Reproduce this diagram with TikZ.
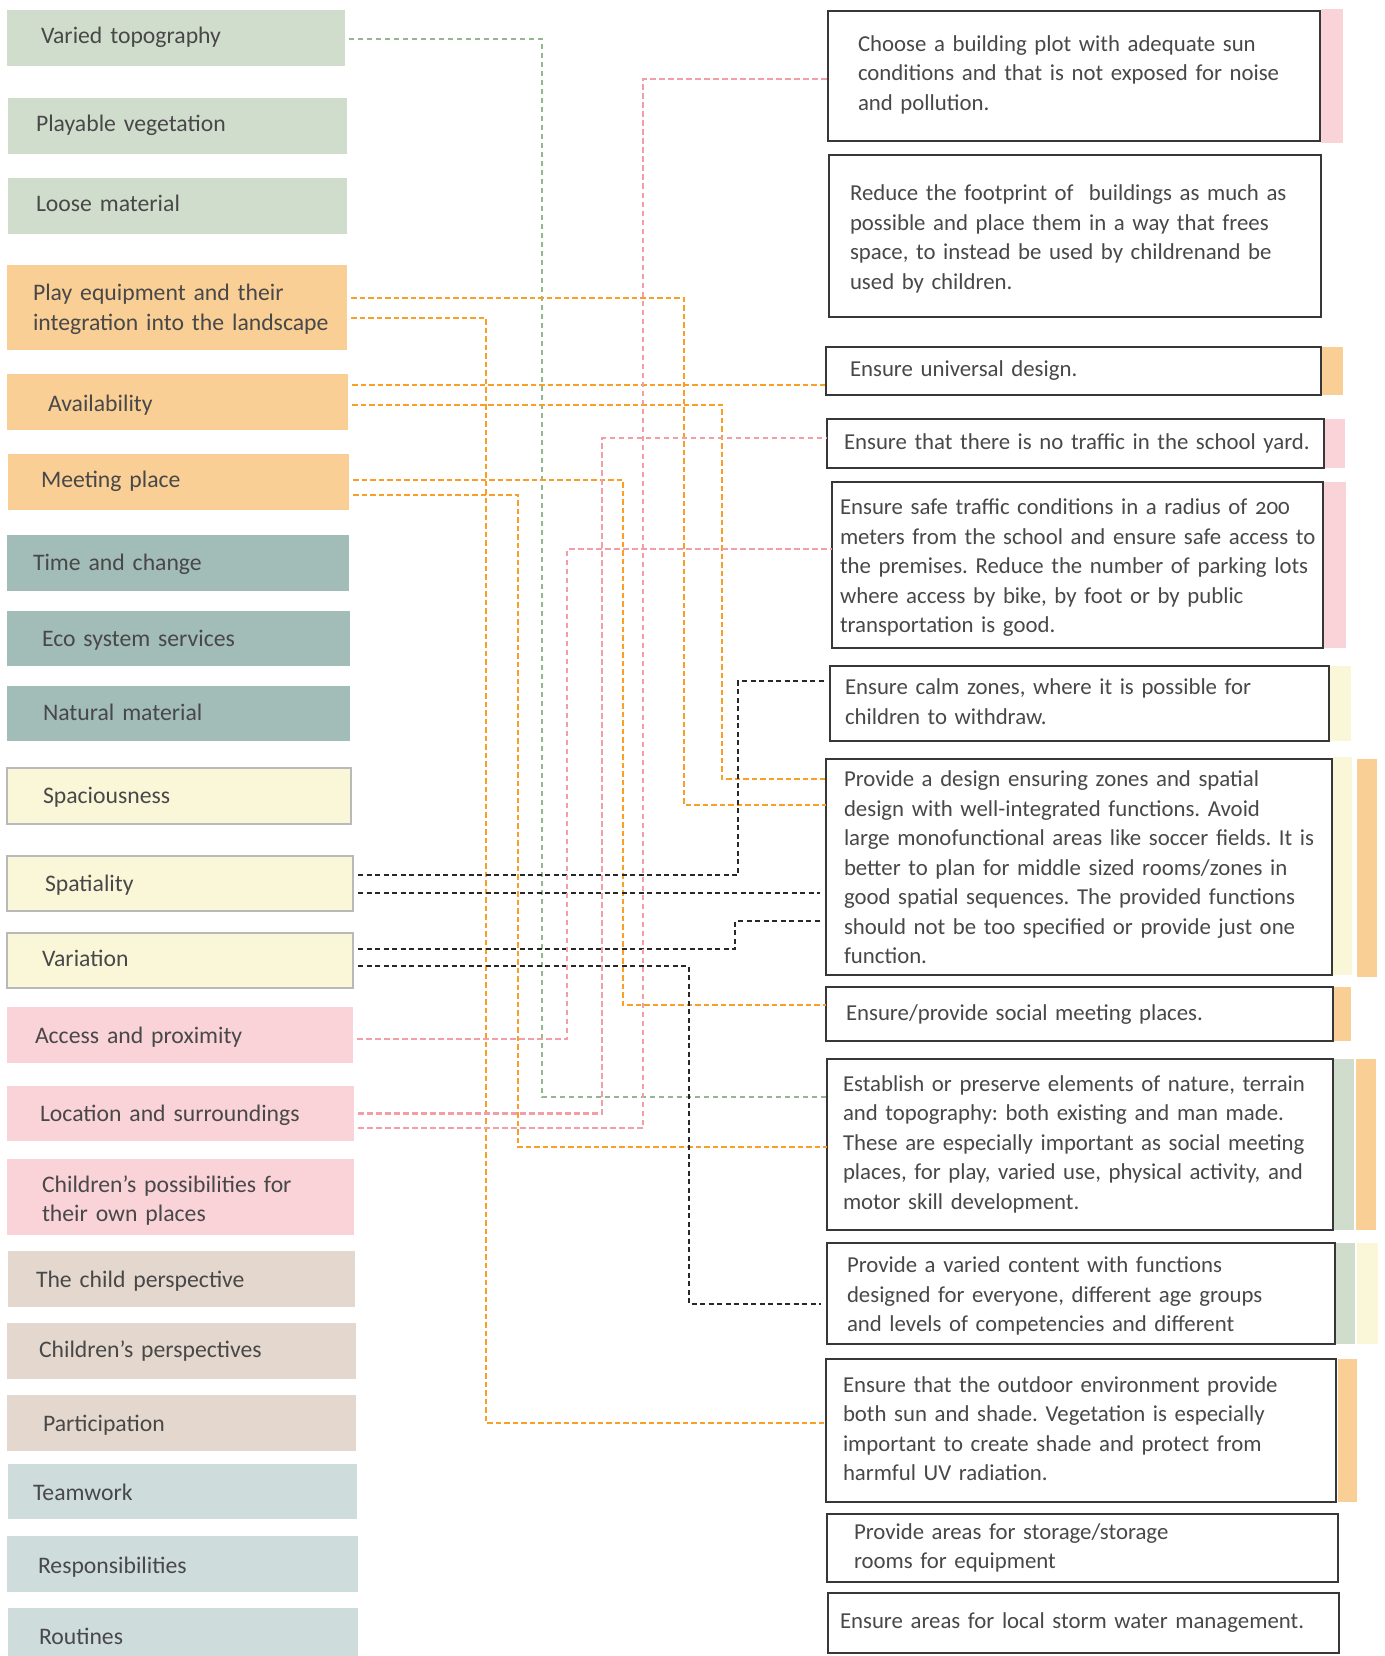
\documentclass[tikz,border=0pt]{standalone}
\usepackage{fontspec}
\setmainfont{Carlito}[Numbers=OldStyle]
\usepackage{xcolor}
\definecolor{sagefill}{RGB}{209,221,204}
\definecolor{peachfill}{RGB}{250,207,150}
\definecolor{tealfill}{RGB}{162,188,183}
\definecolor{creamfill}{RGB}{250,247,217}
\definecolor{rosefill}{RGB}{250,211,216}
\definecolor{sandfill}{RGB}{228,216,206}
\definecolor{mistfill}{RGB}{207,220,220}
\definecolor{creamline}{RGB}{185,185,185}
\definecolor{boxline}{RGB}{55,55,55}
\definecolor{inkgray}{RGB}{72,72,72}
\definecolor{sageline}{RGB}{148,184,142}
\definecolor{peachline}{RGB}{249,158,38}
\definecolor{roseline}{RGB}{243,158,166}
\definecolor{darkline}{RGB}{40,40,40}
\frenchspacing
\newcommand\rows[2][0pt]{\raisebox{#1}[\height][\depth]{\begin{tabular}{@{}l@{}}#2\end{tabular}}}
\newcommand\leftfont{\fontsize{23.7}{29.5}\selectfont}
\newcommand\rightfont{\fontsize{22.8}{29.5}\selectfont}

\begin{document}
\begin{tikzpicture}[x=1pt, y=-1pt,
        every node/.style={anchor=north west, inner ysep=0pt, outer sep=0pt, text=inkgray},
        theme/.style={fill=#1, font=\leftfont}, guide/.style={draw=boxline, line width=1.4pt, fill=white, font=\rightfont},%
        sagelink/.style={draw=sageline, line width=2.2pt, dash pattern=on 5pt off 4pt, shorten <=4pt},
        peachlink/.style={draw=peachline, line width=2.8pt, dash pattern=on 5.5pt off 3pt, shorten <=4pt},
        roselink/.style={draw=roseline, line width=2.3pt, dash pattern=on 5.5pt off 3.5pt, shorten <=4pt},
        darklink/.style={draw=darkline, line width=1.4pt, dash pattern=on 5pt off 3.5pt, shorten <=5pt, shorten >=6pt}]
        \fill[white] (0,0) rectangle (1384,1656);
        \useasboundingbox (0,0) rectangle (1384,1656);

        % qualities (left column)
        \node[theme=sagefill, text width=270pt, inner xsep=34pt, minimum height=56pt] (topo) at (7,10) {\rows{Varied topography}};
        \node[theme=sagefill, text width=283pt, inner xsep=28pt, minimum height=56pt] (veg) at (8,98) {\rows{Playable vegetation}};
        \node[theme=sagefill, text width=283pt, inner xsep=28pt, minimum height=56pt] (loose) at (8,178) {\rows{Loose material}};
        \node[theme=peachfill, text width=288pt, inner xsep=26pt, minimum height=85pt] (equip) at (7,265) {\rows[-2pt]{Play equipment and their\\integration into the landscape}};
        \node[theme=peachfill, text width=259pt, inner xsep=41pt, minimum height=56pt] (avail) at (7,374) {\rows[-4pt]{Availability}};
        \node[theme=peachfill, text width=275pt, inner xsep=33pt, minimum height=56pt] (meet) at (8,454) {\rows{Meeting place}};
        \node[theme=tealfill, text width=290pt, inner xsep=26pt, minimum height=56pt] (time) at (7,535) {\rows[-2pt]{Time and change}};
        \node[theme=tealfill, text width=273pt, inner xsep=35pt, minimum height=55pt] (eco) at (7,611) {\rows[-2pt]{Eco system services}};
        \node[theme=tealfill, text width=271pt, inner xsep=36pt, minimum height=55pt] (natmat) at (7,686) {\rows[-1pt]{Natural material}};
        \node[theme=creamfill, draw=creamline, line width=1.2pt, text width=272pt, inner xsep=36pt, minimum height=56pt] (spacious) at (7,768) {\rows[-2pt]{Spaciousness}};
        \node[theme=creamfill, draw=creamline, line width=1.2pt, text width=270pt, inner xsep=38pt, minimum height=55pt] (spatial) at (7,856) {\rows[-2pt]{Spatiality}};
        \node[theme=creamfill, draw=creamline, line width=1.2pt, text width=276pt, inner xsep=35pt, minimum height=55pt] (variation) at (7,933) {\rows{Variation}};
        \node[theme=rosefill, text width=290pt, inner xsep=28pt, minimum height=56pt] (access) at (7,1007) {\rows[-3pt]{Access and proximity}};
        \node[theme=rosefill, text width=281pt, inner xsep=33pt, minimum height=55pt] (location) at (7,1086) {\rows[-2pt]{Location and surroundings}};
        \node[theme=rosefill, text width=277pt, inner xsep=35pt, minimum height=76pt] (ownplaces) at (7,1159) {\rows[-4pt]{Children’s possibilities for\\their own places}};
        \node[theme=sandfill, text width=291pt, inner xsep=28pt, minimum height=56pt] (childview) at (8,1251) {\rows[-3pt]{The child perspective}};
        \node[theme=sandfill, text width=285pt, inner xsep=32pt, minimum height=56pt] (childrenview) at (7,1323) {\rows[-1pt]{Children’s perspectives}};
        \node[theme=sandfill, text width=277pt, inner xsep=36pt, minimum height=56pt] (particip) at (7,1395) {\rows[-3pt]{Participation}};
        \node[theme=mistfill, text width=299pt, inner xsep=25pt, minimum height=55pt] (teamwork) at (8,1464) {\rows[-3pt]{Teamwork}};
        \node[theme=mistfill, text width=289pt, inner xsep=31pt, minimum height=56pt] (respons) at (7,1536) {\rows[-4pt]{Responsibilities}};
        \node[theme=mistfill, text width=288pt, inner xsep=31pt, minimum height=56pt] (routines) at (8,1608) {\rows[-3pt]{Routines}};

        % guidelines (right column)
        \node[guide, text width=432pt, inner xsep=30pt, minimum height=130pt] (plot) at (828,11) {\rows[1pt]{Choose a building plot with adequate sun\\conditions and that is not exposed for noise\\and pollution.}};
        \node[guide, text width=450pt, inner xsep=21pt, minimum height=162pt] (footprint) at (829,155) {\rows[-3pt]{Reduce the footprint of\ \ buildings as much as\\possible and place them in a way that frees\\space, to instead be used by childrenand be\\used by children.}};
        \node[guide, text width=447pt, inner xsep=24pt, minimum height=48pt] (universal) at (826,347) {\rows{Ensure universal design.}};
        \node[guide, text width=463pt, inner xsep=17pt, minimum height=49pt] (notraffic) at (827,419) {\rows{Ensure that there is no traffic in the school yard.}};
        \node[guide, text width=475pt, inner xsep=8pt, minimum height=166pt] (safetraffic) at (832,482) {\rows[-3pt]{Ensure safe traffic conditions in a radius of 200\\meters from the school and ensure safe access to\\the premises. Reduce the number of parking lots\\where access by bike, by foot or by public\\transportation is good.}};
        \node[guide, text width=469pt, inner xsep=15pt, minimum height=75pt] (calm) at (830,666) {\rows{Ensure calm zones, where it is possible for\\children to withdraw.}};
        \node[guide, text width=470pt, inner xsep=18pt, minimum height=216pt] (zones) at (826,759) {\rows[-2.5pt]{Provide a design ensuring zones and spatial\\design with well-integrated functions. Avoid\\large monofunctional areas like soccer fields. It is\\better to plan for middle sized rooms/zones in\\good spatial sequences. The provided functions\\should not be too specified or provide just one\\function.}};
        \node[guide, text width=467pt, inner xsep=20pt, minimum height=54pt] (social) at (826,987) {\rows[-1pt]{Ensure/provide social meeting places.}};
        \node[guide, text width=474pt, inner xsep=16pt, minimum height=171pt] (nature) at (827,1059) {\rows{Establish or preserve elements of nature, terrain\\and topography: both existing and man made.\\These are especially important as social meeting\\places, for play, varied use, physical activity, and\\motor skill development.}};
        \node[guide, text width=468pt, inner xsep=20pt, minimum height=101pt] (content) at (827,1243) {\rows[-3pt]{Provide a varied content with functions\\designed for everyone, different age groups\\and levels of competencies and different}};
        \node[guide, text width=476pt, inner xsep=17pt, minimum height=143pt] (sunshade) at (826,1359) {\rows{Ensure that the outdoor environment provide\\both sun and shade. Vegetation is especially\\important to create shade and protect from\\harmful UV radiation.}};
        \node[guide, text width=457pt, inner xsep=27pt, minimum height=68pt] (storage) at (827,1514) {\rows{Provide areas for storage/storage\\rooms for equipment}};
        \node[guide, text width=487pt, inner xsep=12pt, minimum height=60pt] (storm) at (828,1593) {\rows{Ensure areas for local storm water management.}};

        % colour tabs beside the guidelines
        \fill[rosefill] ([xshift=0.7pt,yshift=2pt]plot.north east) rectangle ([xshift=23pt,yshift=-2pt]plot.south east);
        \fill[peachfill] ([xshift=0.7pt]universal.north east) rectangle ([xshift=22pt]universal.south east);
        \fill[rosefill] ([xshift=0.7pt]notraffic.north east) rectangle ([xshift=21pt]notraffic.south east);
        \fill[rosefill] ([xshift=0.7pt]safetraffic.north east) rectangle ([xshift=23pt]safetraffic.south east);
        \fill[creamfill] ([xshift=0.7pt]calm.north east) rectangle ([xshift=22pt]calm.south east);
        \fill[creamfill] ([xshift=0.7pt,yshift=2pt]zones.north east) rectangle ([xshift=20pt]zones.south east);
        \fill[peachfill] ([xshift=25pt]zones.north east) rectangle ([xshift=45pt,yshift=-2pt]zones.south east);
        \fill[peachfill] ([xshift=0.7pt]social.north east) rectangle ([xshift=18pt]social.south east);
        \fill[sagefill] ([xshift=0.7pt]nature.north east) rectangle ([xshift=21pt]nature.south east);
        \fill[peachfill] ([xshift=23pt]nature.north east) rectangle ([xshift=43pt]nature.south east);
        \fill[sagefill] ([xshift=0.7pt]content.north east) rectangle ([xshift=20pt]content.south east);
        \fill[creamfill] ([xshift=22pt]content.north east) rectangle ([xshift=43pt]content.south east);
        \fill[peachfill] ([xshift=2pt]sunshade.north east) rectangle ([xshift=21pt]sunshade.south east);

        % links
        \draw[sagelink] ([yshift=-1pt]topo.east) -- ++(197,0) |- ([yshift=47.5pt]nature.west);
        \draw[peachlink] ([yshift=9.5pt]equip.east) -- ++(337,0) |- ([yshift=62pt]zones.west);
        \draw[peachlink] ([yshift=-10.5pt]equip.east) -- ++(139,0) |- ([yshift=7.5pt]sunshade.west);
        \draw[peachlink] ([yshift=17pt]avail.east) -- ([yshift=-14pt]universal.west);
        \draw[peachlink] ([yshift=-3pt]avail.east) -- ++(374,0) |- ([yshift=88pt]zones.west);
        \draw[peachlink] ([yshift=2pt]meet.east) -- ++(274,0) |- ([yshift=9pt]social.west);
        \draw[peachlink] ([yshift=-13pt]meet.east) -- ++(169,0) |- ([yshift=-2.5pt]nature.west);
        \draw[darklink] ([yshift=8.5pt]spatial.east) -- ++(385,0) |- ([yshift=22.5pt]calm.west);
        \draw[darklink] ([yshift=-9.5pt]spatial.east) -- ([yshift=-26pt]zones.west);
        \draw[darklink] ([yshift=11.5pt]variation.east) -- ++(382,0) |- ([yshift=-54pt]zones.west);
        \draw[darklink] ([yshift=-5.5pt]variation.east) -- ++(336,0) |- ([yshift=-10.5pt]content.west);
        \draw[roselink] ([yshift=-4pt]access.east) -- ++(214,0) |- ([yshift=16pt]safetraffic.west);
        \draw[roselink] (location.east) -- ++(248,0) |- ([yshift=5.5pt]notraffic.west);
        \draw[roselink] ([yshift=-14.5pt]location.east) -- ++(289,0) |- ([yshift=-3pt]plot.west);
    \end{tikzpicture}
\end{document}
